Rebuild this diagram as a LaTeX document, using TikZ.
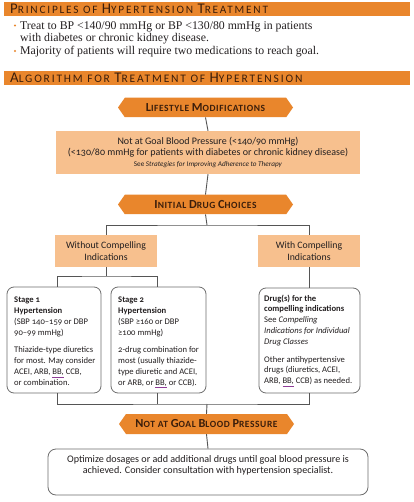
\documentclass[tikz,border=0pt]{standalone}
\usepackage{fontspec}
\setmainfont{Liberation Serif}
\newfontfamily\fs[Numbers=OldStyle]{Carlito}
\newfontfamily\hf[LetterSpace=16]{Carlito}
\newfontfamily\hxf[LetterSpace=6]{Carlito}
\usetikzlibrary{shapes.symbols}
\definecolor{org}{HTML}{E9862C}
\definecolor{lorg}{HTML}{F7C08E}
\definecolor{dbrown}{HTML}{3B1E0B}
\definecolor{txt}{HTML}{231F20}
\definecolor{lin}{HTML}{555555}
\definecolor{ulc}{HTML}{8E3C97}
\newcommand\BC[1]{{\fontsize{14.8}{14.8}\selectfont #1}}
\newcommand\HC[1]{{\fontsize{12.3}{12.3}\selectfont #1}}
\newcommand\bbu[1]{{\color{ulc}\underline{\textcolor{txt}{#1}}}}
\begin{document}
\begin{tikzpicture}[x=1pt,y=-1pt,
  bar/.style={fill=org, inner sep=0pt, minimum height=13.5pt, minimum width=406pt, anchor=north west},
  hdrtext/.style={anchor=west, inner sep=0pt, text=dbrown},
  bullet/.style={anchor=base west, inner sep=0pt, text=txt, font=\fontsize{11.8}{12}\selectfont},
  hexa/.style={signal, signal to=east and west, signal pointer angle=110, fill=org, draw=none, minimum width=175pt, minimum height=19.5pt, inner sep=0pt, text=dbrown, font=\hxf\bfseries\fontsize{9.5}{9.5}\selectfont},
  lbox/.style={fill=lorg, inner sep=0pt, text=txt, align=center},
  rbox/.style={draw=lin!85, line width=0.8pt, rounded corners=7pt, fill=white, inner sep=0pt},
  con/.style={draw=lin, line width=0.9pt},
  body/.style={font=\fs\fontsize{8.6}{10.8}\selectfont, text=txt, align=left, inner sep=0pt, anchor=north west},
]
\useasboundingbox (0,0) rectangle (413,502);
\fill[white] (0,0) rectangle (413,502);

% header 1
\node[bar] (h1) at (4,2) {};
\node[hdrtext] (h1t) at (10,9) {\hf\fontsize{11.3}{11.3}\selectfont \BC{P}RINCIPLES OF \BC{H}YPERTENSION \BC{T}REATMENT};

% bullets
\fill[org] (15,25.5) circle (1.1);
\fill[org] (15,51) circle (1.1);
\node[bullet] (b1) at (20,29.3) {Treat to BP <140/90 mmHg or BP <130/80 mmHg in patients};
\node[bullet] (b2) at (20,41.7) {with diabetes or chronic kidney disease.};
\node[bullet] (b3) at (20,54.8) {Majority of patients will require two medications to reach goal.};

% header 2
\node[bar] (h2) at (4,71) {};
\node[hdrtext] (h2t) at (10,78) {\hf\fontsize{11.5}{11.5}\selectfont \BC{A}LGORITHM FOR \BC{T}REATMENT OF \BC{H}YPERTENSION};

% flow
\node[hexa] (life) at (205.5,107.5) {\HC{L}IFESTYLE \HC{M}ODIFICATIONS};
\node[lbox, minimum width=304pt, minimum height=43pt, font=\fs\fontsize{10}{11.2}\selectfont] (goal) at (208,152.5)
  {Not at Goal Blood Pressure (<140/90 mmHg)\\(<130/80 mmHg for patients with diabetes or chronic kidney disease)\\{\fontsize{7.2}{8}\selectfont See \textit{Strategies for Improving Adherence to Therapy}}};
\node[hexa] (init) at (205.5,204.5) {\HC{I}NITIAL \HC{D}RUG \HC{C}HOICES};
\node[lbox, minimum width=102pt, minimum height=32pt, font=\fs\fontsize{9.8}{12.7}\selectfont] (woc) at (106,251) {Without Compelling\\Indications};
\node[lbox, minimum width=102pt, minimum height=32pt, font=\fs\fontsize{9.8}{12.7}\selectfont] (wc) at (309,251) {With Compelling\\Indications};

\node[rbox, minimum width=94pt, minimum height=106pt] (s1) at (54,340) {};
\node[rbox, minimum width=95pt, minimum height=106pt] (s2) at (158.5,340) {};
\node[rbox, minimum width=101pt, minimum height=105pt] (dr) at (309.5,340.5) {};

\node[body] (s1t) at (14,297) {\textbf{Stage 1}\\\textbf{Hypertension}\\(SBP 140–159 or DBP\\90–99 mmHg)\\[6.6pt]Thiazide-type diuretics\\for most. May consider\\ACEI, ARB, \bbu{BB,} CCB,\\or combination.};
\node[body] (s2t) at (118,297) {\textbf{Stage 2}\\\textbf{Hypertension}\\(SBP ≥160 or DBP\\≥100 mmHg)\\[6.6pt]2-drug combination for\\most (usually thiazide-\\type diuretic and ACEI,\\or ARB, or \bbu{BB,} or CCB).};
\node[body] (drt) at (264,294.5) {\textbf{Drug(s) for the}\\\textbf{compelling indications}\\See \textit{Compelling}\\\textit{Indications for Individual}\\\textit{Drug Classes}\\[7pt]Other antihypertensive\\drugs (diuretics, ACEI,\\ARB, \bbu{BB,} CCB) as needed.};

\node[hexa, minimum height=20pt] (ng) at (206.5,424) {\HC{N}OT AT \HC{G}OAL \HC{B}LOOD \HC{P}RESSURE};
\node[rbox, minimum width=320pt, minimum height=46pt, rounded corners=8pt] (fin) at (208,472) {};
\node[inner sep=0pt, align=center, text=txt, font=\fs\fontsize{10.1}{11}\selectfont] (fint) at (208,465)
  {Optimize dosages or add additional drugs until goal blood pressure is\\achieved. Consider consultation with hypertension specialist.};

% connectors
\coordinate (j1) at (207,225);
\coordinate (j2) at (106,276);
\coordinate (j3) at (207,404);
\draw[con] (life.south) -- (goal.north);
\draw[con] (goal.south) -- (init.north);
\draw[con] (init.south) -- (j1);
\draw[con] (woc.north) |- (j1) -| (wc.north);
\draw[con] (woc.south) -- (j2);
\draw[con] ([xshift=3pt]s1.north) |- (j2) -| ([xshift=-1.5pt]s2.north);
\draw[con] (wc.south) -- ([xshift=-0.5pt]dr.north);
\draw[con] ([xshift=3pt]s1.south) |- (j3) -| ([xshift=-0.5pt]dr.south);
\draw[con] ([xshift=-1.5pt]s2.south) -- ([xshift=-1.5pt]s2.south |- j3);
\draw[con] (j3) -- (ng.north);
\draw[con] (ng.south) -- (fin.north);
\end{tikzpicture}
\end{document}
